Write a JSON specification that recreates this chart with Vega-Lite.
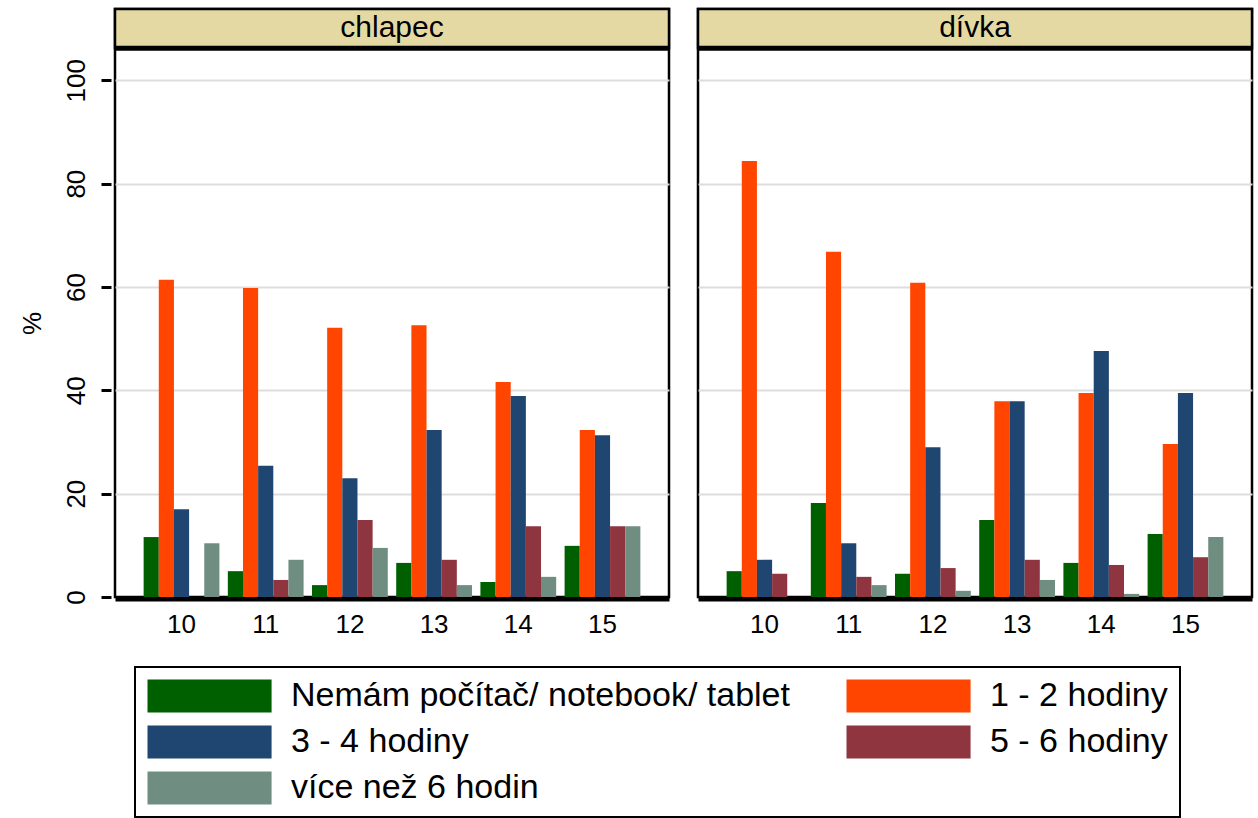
{
  "$schema": "https://vega.github.io/schema/vega-lite/v6.json",
  "background": "white",
  "padding": {"left": 19, "top": 6, "right": 5, "bottom": 0},
  "data": {"values": [
    {"pohlavi": "chlapec", "vek": 10, "kat": "Nemám počítač/ notebook/ tablet", "pct": 11.6},
    {"pohlavi": "chlapec", "vek": 10, "kat": "1 - 2 hodiny", "pct": 61.4},
    {"pohlavi": "chlapec", "vek": 10, "kat": "3 - 4 hodiny", "pct": 17.0},
    {"pohlavi": "chlapec", "vek": 10, "kat": "5 - 6 hodiny", "pct": 0},
    {"pohlavi": "chlapec", "vek": 10, "kat": "více než 6 hodin", "pct": 10.4},
    {"pohlavi": "chlapec", "vek": 11, "kat": "Nemám počítač/ notebook/ tablet", "pct": 5.0},
    {"pohlavi": "chlapec", "vek": 11, "kat": "1 - 2 hodiny", "pct": 59.8},
    {"pohlavi": "chlapec", "vek": 11, "kat": "3 - 4 hodiny", "pct": 25.4},
    {"pohlavi": "chlapec", "vek": 11, "kat": "5 - 6 hodiny", "pct": 3.3},
    {"pohlavi": "chlapec", "vek": 11, "kat": "více než 6 hodin", "pct": 7.2},
    {"pohlavi": "chlapec", "vek": 12, "kat": "Nemám počítač/ notebook/ tablet", "pct": 2.3},
    {"pohlavi": "chlapec", "vek": 12, "kat": "1 - 2 hodiny", "pct": 52.1},
    {"pohlavi": "chlapec", "vek": 12, "kat": "3 - 4 hodiny", "pct": 23.0},
    {"pohlavi": "chlapec", "vek": 12, "kat": "5 - 6 hodiny", "pct": 14.9},
    {"pohlavi": "chlapec", "vek": 12, "kat": "více než 6 hodin", "pct": 9.5},
    {"pohlavi": "chlapec", "vek": 13, "kat": "Nemám počítač/ notebook/ tablet", "pct": 6.6},
    {"pohlavi": "chlapec", "vek": 13, "kat": "1 - 2 hodiny", "pct": 52.6},
    {"pohlavi": "chlapec", "vek": 13, "kat": "3 - 4 hodiny", "pct": 32.3},
    {"pohlavi": "chlapec", "vek": 13, "kat": "5 - 6 hodiny", "pct": 7.2},
    {"pohlavi": "chlapec", "vek": 13, "kat": "více než 6 hodin", "pct": 2.3},
    {"pohlavi": "chlapec", "vek": 14, "kat": "Nemám počítač/ notebook/ tablet", "pct": 2.9},
    {"pohlavi": "chlapec", "vek": 14, "kat": "1 - 2 hodiny", "pct": 41.6},
    {"pohlavi": "chlapec", "vek": 14, "kat": "3 - 4 hodiny", "pct": 38.9},
    {"pohlavi": "chlapec", "vek": 14, "kat": "5 - 6 hodiny", "pct": 13.7},
    {"pohlavi": "chlapec", "vek": 14, "kat": "více než 6 hodin", "pct": 3.9},
    {"pohlavi": "chlapec", "vek": 15, "kat": "Nemám počítač/ notebook/ tablet", "pct": 9.9},
    {"pohlavi": "chlapec", "vek": 15, "kat": "1 - 2 hodiny", "pct": 32.3},
    {"pohlavi": "chlapec", "vek": 15, "kat": "3 - 4 hodiny", "pct": 31.3},
    {"pohlavi": "chlapec", "vek": 15, "kat": "5 - 6 hodiny", "pct": 13.7},
    {"pohlavi": "chlapec", "vek": 15, "kat": "více než 6 hodin", "pct": 13.7},
    {"pohlavi": "dívka", "vek": 10, "kat": "Nemám počítač/ notebook/ tablet", "pct": 5.0},
    {"pohlavi": "dívka", "vek": 10, "kat": "1 - 2 hodiny", "pct": 84.4},
    {"pohlavi": "dívka", "vek": 10, "kat": "3 - 4 hodiny", "pct": 7.2},
    {"pohlavi": "dívka", "vek": 10, "kat": "5 - 6 hodiny", "pct": 4.5},
    {"pohlavi": "dívka", "vek": 10, "kat": "více než 6 hodin", "pct": 0},
    {"pohlavi": "dívka", "vek": 11, "kat": "Nemám počítač/ notebook/ tablet", "pct": 18.2},
    {"pohlavi": "dívka", "vek": 11, "kat": "1 - 2 hodiny", "pct": 66.8},
    {"pohlavi": "dívka", "vek": 11, "kat": "3 - 4 hodiny", "pct": 10.4},
    {"pohlavi": "dívka", "vek": 11, "kat": "5 - 6 hodiny", "pct": 3.9},
    {"pohlavi": "dívka", "vek": 11, "kat": "více než 6 hodin", "pct": 2.3},
    {"pohlavi": "dívka", "vek": 12, "kat": "Nemám počítač/ notebook/ tablet", "pct": 4.5},
    {"pohlavi": "dívka", "vek": 12, "kat": "1 - 2 hodiny", "pct": 60.8},
    {"pohlavi": "dívka", "vek": 12, "kat": "3 - 4 hodiny", "pct": 29.0},
    {"pohlavi": "dívka", "vek": 12, "kat": "5 - 6 hodiny", "pct": 5.6},
    {"pohlavi": "dívka", "vek": 12, "kat": "více než 6 hodin", "pct": 1.2},
    {"pohlavi": "dívka", "vek": 13, "kat": "Nemám počítač/ notebook/ tablet", "pct": 14.9},
    {"pohlavi": "dívka", "vek": 13, "kat": "1 - 2 hodiny", "pct": 37.9},
    {"pohlavi": "dívka", "vek": 13, "kat": "3 - 4 hodiny", "pct": 37.9},
    {"pohlavi": "dívka", "vek": 13, "kat": "5 - 6 hodiny", "pct": 7.2},
    {"pohlavi": "dívka", "vek": 13, "kat": "více než 6 hodin", "pct": 3.3},
    {"pohlavi": "dívka", "vek": 14, "kat": "Nemám počítač/ notebook/ tablet", "pct": 6.6},
    {"pohlavi": "dívka", "vek": 14, "kat": "1 - 2 hodiny", "pct": 39.5},
    {"pohlavi": "dívka", "vek": 14, "kat": "3 - 4 hodiny", "pct": 47.6},
    {"pohlavi": "dívka", "vek": 14, "kat": "5 - 6 hodiny", "pct": 6.2},
    {"pohlavi": "dívka", "vek": 14, "kat": "více než 6 hodin", "pct": 0.6},
    {"pohlavi": "dívka", "vek": 15, "kat": "Nemám počítač/ notebook/ tablet", "pct": 12.2},
    {"pohlavi": "dívka", "vek": 15, "kat": "1 - 2 hodiny", "pct": 29.6},
    {"pohlavi": "dívka", "vek": 15, "kat": "3 - 4 hodiny", "pct": 39.5},
    {"pohlavi": "dívka", "vek": 15, "kat": "5 - 6 hodiny", "pct": 7.7},
    {"pohlavi": "dívka", "vek": 15, "kat": "více než 6 hodin", "pct": 11.6}
  ]},
  "facet": {"column": {"field": "pohlavi", "type": "nominal", "header": null, "sort": ["chlapec", "dívka"]}},
  "spacing": 21,
  "resolve": {"scale": {"x": "shared", "y": "shared"}},
  "spec": {
    "width": 554,
    "height": 588,
    "layer": [
      {
        "mark": {"type": "bar", "stroke": null},
        "encoding": {
          "x": {"field": "vek", "type": "ordinal",
                "scale": {"paddingInner": 0.1, "paddingOuter": 0.34},
                "axis": {"title": null, "labelAngle": 0, "labelFontSize": 26, "ticks": false,
                         "domainColor": "black", "domainWidth": 4, "labelPadding": 12,
                         "labelColor": "black", "grid": false, "zindex": 1}},
          "xOffset": {"field": "kat", "type": "nominal",
                      "sort": ["Nemám počítač/ notebook/ tablet", "1 - 2 hodiny", "3 - 4 hodiny", "5 - 6 hodiny", "více než 6 hodin"],
                      "scale": {"paddingInner": 0, "paddingOuter": 0}},
          "y": {"field": "pct", "type": "quantitative",
                "scale": {"domain": [0, 113.8], "nice": false, "zero": true},
                "axis": {"values": [0, 20, 40, 60, 80, 100], "title": "%", "labelAngle": -90,
                         "labelFontSize": 26, "labelColor": "black", "tickSize": 10, "tickWidth": 3,
                         "tickColor": "black", "domain": false,
                         "gridColor": {"condition": {"test": "datum.value === 0", "value": "transparent"}, "value": "#DDDDDD"},
                         "gridWidth": 2,
                         "labelPadding": 12, "titleFontSize": 26, "titleFontWeight": "normal",
                         "titleColor": "black", "titlePadding": 18, "titleY": 314}},
          "color": {"field": "kat", "type": "nominal",
                    "scale": {"domain": ["Nemám počítač/ notebook/ tablet", "1 - 2 hodiny", "3 - 4 hodiny", "5 - 6 hodiny", "více než 6 hodin"],
                              "range": ["#006000", "#FF4500", "#1E4670", "#8E3540", "#708D81"]},
                    "legend": {"title": null, "orient": "none", "legendX": 20, "legendY": 658,
                               "columns": 2, "direction": "horizontal",
                               "symbolType": "M-1,-1L6.52,-1L6.52,1L-1,1Z", "symbolSize": 1089,
                               "symbolStrokeWidth": 0, "symbolOpacity": 1,
                               "labelFontSize": 34, "labelColor": "black", "labelOffset": 110, "labelLimit": 900,
                               "columnPadding": 56, "rowPadding": 12, "padding": 12,
                               "strokeColor": "black", "fillColor": "white"}}
        }
      },
      {
        "transform": [{"aggregate": [{"op": "count", "as": "n"}], "groupby": ["pohlavi"]}],
        "mark": {"type": "rect", "fill": "#E5D9A3", "stroke": "black", "strokeWidth": 2.5},
        "encoding": {"y": {"datum": 106.2}, "y2": {"datum": 113.8}}
      },
      {
        "transform": [{"aggregate": [{"op": "count", "as": "n"}], "groupby": ["pohlavi"]}],
        "mark": {"type": "rule", "stroke": "black", "strokeWidth": 5},
        "encoding": {"y": {"datum": 106.2}}
      },
      {
        "transform": [{"aggregate": [{"op": "count", "as": "n"}], "groupby": ["pohlavi"]}],
        "mark": {"type": "text", "fontSize": 30, "color": "black", "baseline": "middle", "align": "center"},
        "encoding": {"text": {"field": "pohlavi"}, "y": {"datum": 110.2}}
      }
    ]
  },
  "config": {
    "font": "Liberation Sans",
    "view": {"stroke": "black", "strokeWidth": 2.5},
    "legend": {"strokeWidth": 2}
  }
}
